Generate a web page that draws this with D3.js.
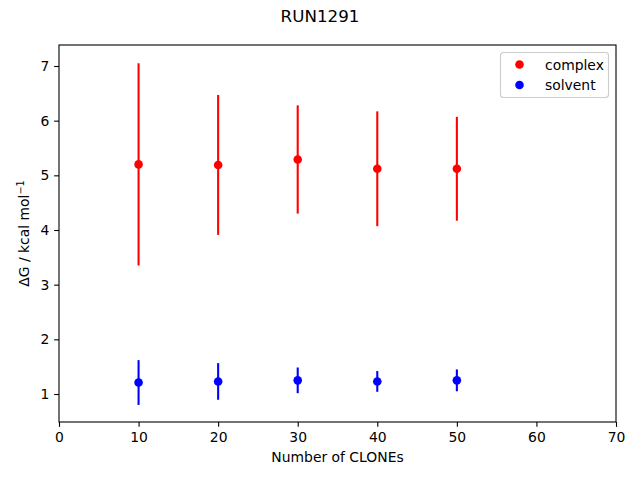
<!DOCTYPE html>
<html><head><meta charset="utf-8">
<script src="https://cdn.jsdelivr.net/npm/d3@7"></script>
<style>body{margin:0;background:#fff}svg{display:block;font-family:"DejaVu Sans",sans-serif}</style>
</head><body>
<script>
const clones = [10, 20, 30, 40, 50];
const complexMean = [5.20, 5.19, 5.29, 5.12, 5.12];
const complexErr = [1.85, 1.28, 0.99, 1.05, 0.95];
const solventMean = [1.21, 1.23, 1.25, 1.23, 1.25];
const solventErr = [0.41, 0.335, 0.235, 0.19, 0.20];
const xTicks = [0, 10, 20, 30, 40, 50, 60, 70];
const yTicks = [1, 2, 3, 4, 5, 6, 7];
const seriesNames = ["complex", "solvent"];
const seriesColors = ["#ff0000", "#0000ff"];

const W = 640, H = 480;
const m = {left: 59, right: 616, top: 45, bottom: 422};
const svg = d3.select("body").append("svg").attr("width", W).attr("height", H);
const x = d3.scaleLinear().domain([0, 70]).range([m.left, m.right]);
const y = d3.scaleLinear().domain([0.488, 7.384]).range([m.bottom, m.top]);

const series = [
  {name: seriesNames[0], color: seriesColors[0], mean: complexMean, err: complexErr},
  {name: seriesNames[1], color: seriesColors[1], mean: solventMean, err: solventErr}
];

series.forEach(s => {
  const d = clones.map((c, i) => ({x: c, y: s.mean[i], e: s.err[i]}));
  const g = svg.append("g");
  g.selectAll("line").data(d).enter().append("line")
    .attr("x1", p => x(p.x)).attr("x2", p => x(p.x))
    .attr("y1", p => y(p.y - p.e)).attr("y2", p => y(p.y + p.e))
    .attr("stroke", s.color).attr("stroke-width", 2.08);
  g.selectAll("circle").data(d).enter().append("circle")
    .attr("cx", p => x(p.x)).attr("cy", p => y(p.y)).attr("r", 4.3)
    .attr("fill", s.color);
});

// axes
const xAxis = svg.append("g").attr("transform", `translate(0,${m.bottom})`)
  .call(d3.axisBottom(x).tickValues(xTicks).tickSize(4.86).tickPadding(4.9).tickFormat(d3.format("d")));
const yAxis = svg.append("g").attr("transform", `translate(${m.left},0)`)
  .call(d3.axisLeft(y).tickValues(yTicks).tickSize(4.86).tickPadding(4.9).tickFormat(d3.format("d")));
[xAxis, yAxis].forEach(a => {
  a.select(".domain").remove();
  a.selectAll(".tick line").attr("stroke", "#000").attr("stroke-width", 1.1);
  a.selectAll(".tick text").attr("font-size", 13.9).attr("fill", "#000").attr("font-family", "DejaVu Sans");
});
svg.append("rect").attr("x", m.left).attr("y", m.top)
  .attr("width", m.right - m.left).attr("height", m.bottom - m.top)
  .attr("fill", "none").attr("stroke", "#000").attr("stroke-width", 1.1);

// title & labels
svg.append("text").attr("x", 320).attr("y", 22).attr("text-anchor", "middle")
  .attr("font-size", 16.7).text("RUN1291");
svg.append("text").attr("x", (m.left + m.right) / 2).attr("y", 462).attr("text-anchor", "middle")
  .attr("font-size", 13.9).text("Number of CLONEs");
const yl = svg.append("text").attr("transform", `translate(29,${(m.top + m.bottom) / 2}) rotate(-90)`)
  .attr("text-anchor", "middle").attr("font-size", 13.9);
yl.append("tspan").text("ΔG / kcal mol");
yl.append("tspan").attr("dy", -5).attr("font-size", 9.7).text("−1");

// legend
const lg = svg.append("g");
lg.append("rect").attr("x", 500.5).attr("y", 52.5).attr("width", 108).attr("height", 45)
  .attr("rx", 3).attr("fill", "#fff").attr("fill-opacity", 0.8).attr("stroke", "#ccc").attr("stroke-width", 1.1);
series.forEach((s, i) => {
  const cy = 64.5 + i * 20.5;
  lg.append("circle").attr("cx", 519.5).attr("cy", cy).attr("r", 4.3).attr("fill", s.color);
  lg.append("text").attr("x", 545).attr("y", cy + 5).attr("font-size", 13.9).text(s.name);
});
</script>
</body></html>
